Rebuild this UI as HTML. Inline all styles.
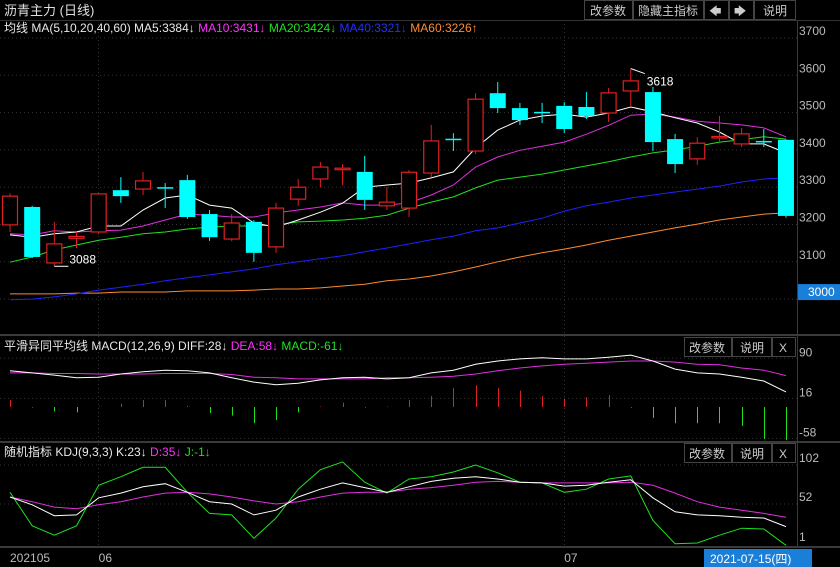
<!DOCTYPE html>
<html><head><meta charset="utf-8">
<style>
html,body{margin:0;padding:0;background:#000;width:840px;height:567px;overflow:hidden;font-family:"Liberation Sans","Noto Sans CJK SC",sans-serif;}
svg{display:block}
text{font-family:"Liberation Sans","Noto Sans CJK SC",sans-serif;}
</style></head>
<body>
<svg id="chart" width="840" height="567" viewBox="0 0 840 567" xmlns="http://www.w3.org/2000/svg">
<rect x="0" y="0" width="840" height="567" fill="#000"/>
<g id="frame">
<line x1="797.5" y1="20" x2="797.5" y2="547" stroke="#3a3a3a"/>
<line x1="0" y1="20.5" x2="840" y2="20.5" stroke="#333"/>
<rect x="0" y="334" width="840" height="2" fill="#3a3a3a"/>
<rect x="0" y="441" width="840" height="2" fill="#3a3a3a"/>
<rect x="0" y="546" width="840" height="2" fill="#3a3a3a"/>
</g>
<text x="4" y="15" fill="#e0e0e0" font-size="13">沥青主力 (日线)</text>
<g font-size="12" fill="#ccc">
<rect x="584.5" y="0.5" width="48" height="19" fill="#000" stroke="#444"/>
<text x="590" y="15" fill="#ccc">改参数</text>
<rect x="633.5" y="0.5" width="70" height="19" fill="#000" stroke="#444"/>
<text x="638" y="15" fill="#ccc">隐藏主指标</text>
<rect x="704.5" y="0.5" width="24" height="19" fill="#000" stroke="#444"/>
<text x="709" y="15" fill="#ccc">🡄</text>
<rect x="729.5" y="0.5" width="24" height="19" fill="#000" stroke="#444"/>
<text x="734" y="15" fill="#ccc">🡆</text>
<rect x="754.5" y="0.5" width="41" height="19" fill="#000" stroke="#444"/>
<text x="763" y="15" fill="#ccc">说明</text>
</g>
<text x="4" y="32" font-size="12"><tspan fill="#e8e8e8">均线 MA(5,10,20,40,60) MA5:3384↓ </tspan><tspan fill="#ff30ff">MA10:3431↓ </tspan><tspan fill="#20e020">MA20:3424↓ </tspan><tspan fill="#2030ff">MA40:3321↓ </tspan><tspan fill="#ff8a30">MA60:3226↑</tspan></text>
<text x="4" y="350" font-size="12"><tspan fill="#e8e8e8">平滑异同平均线 MACD(12,26,9) DIFF:28↓ </tspan><tspan fill="#ff30ff">DEA:58↓ </tspan><tspan fill="#20e020">MACD:-61↓</tspan></text>
<text x="4" y="456" font-size="12"><tspan fill="#e8e8e8">随机指标 KDJ(9,3,3) K:23↓ </tspan><tspan fill="#ff30ff">D:35↓ </tspan><tspan fill="#20e020">J:-1↓</tspan></text>
<g font-size="12" fill="#ccc">
<rect x="684.5" y="337.5" width="47" height="19" fill="#000" stroke="#444"/>
<text x="689" y="352" fill="#ccc">改参数</text>
<rect x="732.5" y="337.5" width="39" height="19" fill="#000" stroke="#444"/>
<text x="740" y="352" fill="#ccc">说明</text>
<rect x="772.5" y="337.5" width="23" height="19" fill="#000" stroke="#444"/>
<text x="779" y="352" fill="#ccc">X</text>
<rect x="684.5" y="443.5" width="47" height="19" fill="#000" stroke="#444"/>
<text x="689" y="458" fill="#ccc">改参数</text>
<rect x="732.5" y="443.5" width="39" height="19" fill="#000" stroke="#444"/>
<text x="740" y="458" fill="#ccc">说明</text>
<rect x="772.5" y="443.5" width="23" height="19" fill="#000" stroke="#444"/>
<text x="779" y="458" fill="#ccc">X</text>
</g>
<g id="grid"></g>
<g id="price"></g>
<g id="macd"></g>
<g id="kdj"></g>
<g id="axes"></g>
</svg>
<script>
const opens  = [3199,3247,3097,3163,3180,3292,3295,3300,3319,3228,3161,3207,3140,3268,3322,3350,3341,3250,3244,3338,3430,3397,3552,3512,3502,3518,3515,3499,3558,3555,3429,3376,3433,3416,3424,3427];
const closes = [3276,3113,3148,3168,3282,3276,3317,3298,3220,3166,3204,3124,3244,3300,3354,3351,3266,3260,3340,3424,3429,3536,3512,3480,3500,3456,3491,3553,3585,3421,3362,3418,3436,3443,3421,3223];
const highs  = [3284,3250,3207,3180,3284,3327,3341,3311,3333,3239,3228,3212,3258,3322,3368,3362,3384,3300,3346,3467,3445,3552,3582,3526,3526,3528,3555,3566,3618,3569,3443,3434,3491,3459,3456,3429];
const lows   = [3180,3110,3088,3137,3174,3258,3279,3244,3215,3156,3155,3100,3124,3250,3300,3306,3239,3239,3220,3327,3397,3389,3499,3467,3472,3445,3483,3475,3515,3397,3338,3360,3421,3408,3408,3218];
const ma5  = [3172,3166,3175,3180,3196,3196,3239,3271,3279,3252,3244,3204,3193,3212,3233,3257,3300,3306,3311,3325,3341,3405,3453,3480,3491,3496,3488,3499,3515,3502,3486,3472,3448,3416,3416,3392];
const ma10 = [3175,3172,3183,3180,3183,3185,3196,3212,3228,3225,3220,3220,3231,3239,3247,3258,3252,3252,3258,3279,3306,3354,3381,3399,3410,3421,3442,3466,3493,3496,3488,3477,3472,3467,3459,3435];
const ma20 = [3099,3113,3132,3145,3158,3166,3175,3180,3188,3193,3196,3196,3199,3207,3209,3212,3217,3225,3244,3260,3274,3298,3319,3327,3335,3346,3357,3368,3381,3392,3400,3410,3421,3427,3435,3429];
const ma40 = [2998,3000,3006,3014,3024,3032,3040,3049,3057,3065,3073,3081,3092,3100,3108,3116,3127,3137,3148,3159,3169,3183,3191,3204,3217,3236,3250,3260,3271,3279,3287,3295,3303,3314,3322,3325];
const ma60 = [3014,3014,3014,3016,3016,3019,3019,3019,3022,3022,3022,3024,3027,3027,3030,3035,3040,3049,3054,3062,3073,3086,3100,3113,3124,3134,3145,3158,3169,3180,3191,3201,3212,3220,3228,3231];
const diff = [67,63,59,54,55,61,65,68,67,63,54,46,41,44,50,54,55,52,54,63,68,79,85,89,91,89,89,92,96,85,70,63,61,55,48,28];
const dea  = [63,63,62,62,61,61,61,62,62,62,60,55,54,52,52,52,52,54,54,55,57,61,67,72,76,79,81,83,85,85,83,79,78,72,68,58];
const hist = [13,-1,-8,-10,1,6,13,13,2,-11,-16,-30,-24,-10,1,8,-1,1,13,20,35,40,35,30,20,15,18,22,0,-20,-30,-30,-30,-35,-59,-61];
const kVals = [61,51,37,38,60,66,74,78,67,55,52,38,44,61,71,79,73,67,74,81,85,87,84,80,79,75,76,80,83,60,42,38,37,35,34,23];
const dVals = [61,55,48,46,51,55,61,66,67,65,61,56,52,55,61,66,67,67,71,73,76,80,81,80,79,79,79,79,80,76,66,55,48,44,40,35];
const jVals = [67,24,12,24,76,87,99,99,67,40,38,8,34,71,96,106,80,66,84,87,93,102,92,80,79,67,71,84,88,31,1,2,12,21,20,-1];
const priceTicks = [3700,3600,3500,3400,3300,3200,3100,3000];
const macdTicks = [90,16,-58];
const kdjTicks = [102,52,1];
const dateLabels = ["202105","06","07"];
const dateIndex = [0,4,25];

const NS="http://www.w3.org/2000/svg";
function mk(tag,attrs,parent){const e=document.createElementNS(NS,tag);for(const k in attrs)e.setAttribute(k,attrs[k]);parent.appendChild(e);return e;}
const xOf=i=>10+i*22.17;
const yP=p=>38+(3700-p)*0.373;
const yM=v=>407-v*0.541;
const yK=v=>504-(v-52)*0.78;
const G=id=>document.getElementById(id);
const grid=G('grid'),price=G('price'),macd=G('macd'),kdj=G('kdj'),axes=G('axes');

priceTicks.forEach(t=>{const l=mk('line',{x1:0,x2:797,y1:yP(t),y2:yP(t),stroke:'#333','stroke-dasharray':'1,3'},grid);


if(t===3000){const r=mk('rect',{x:798,y:yP(t)-15,width:42,height:16,fill:'#1a7fd8'},axes);

}
const tx=mk('text',{x:t===3000?808:799,y:yP(t)-3,fill:t===3000?'#fff':'#bbb','font-size':12},axes);tx.textContent=t;

});
macdTicks.forEach(t=>{const l=mk('line',{x1:0,x2:797,y1:yM(t),y2:yM(t),stroke:'#333','stroke-dasharray':'1,3'},grid);


const tx=mk('text',{x:799,y:yM(t)-2,fill:'#bbb','font-size':12},axes);tx.textContent=t;

});
kdjTicks.forEach(t=>{if(t!==1){const l=mk('line',{x1:0,x2:797,y1:yK(t),y2:yK(t),stroke:'#333','stroke-dasharray':'1,3'},grid);

}
const tx=mk('text',{x:799,y:yK(t)-3,fill:'#bbb','font-size':12},axes);tx.textContent=t;

});
[4,25].forEach(i=>{const x=Math.round(xOf(i)-0.5)+0.5;const l=mk('line',{x1:x,x2:x,y1:20,y2:546,stroke:'#333','stroke-dasharray':'1,3'},grid);

});
dateLabels.forEach((s,k)=>{const x=k===0?10:xOf(dateIndex[k]);const tx=mk('text',{x:x,y:562,fill:'#bbb','font-size':12},axes);tx.textContent=s;

});
{const r=mk('rect',{x:704,y:549,width:108,height:18,fill:'#1a7fd8'},axes);


const tx=mk('text',{x:710,y:563,fill:'#fff','font-size':12},axes);tx.textContent='2021-07-15(四)';

}

function line(arr,fy,color,parent,name){const pts=arr.map((v,i)=>xOf(i).toFixed(1)+','+fy(v).toFixed(1)).join(' ');
const p=mk('polyline',{points:pts,fill:'none',stroke:color,'stroke-width':1},parent);

}
line(ma60,yP,'#ff8a30',price,'ma60-line');
line(ma40,yP,'#2020ff',price,'ma40-line');
line(ma20,yP,'#20e020',price,'ma20-line');
line(ma10,yP,'#e030e0',price,'ma10-line');
line(ma5,yP,'#ffffff',price,'ma5-line');

opens.forEach((o,i)=>{const c=closes[i],x=xOf(i),up=c>=o;const col=up?'#e02020':'#00ffff';
const g=mk('g',{},price);


const top=yP(Math.max(o,c)),bot=yP(Math.min(o,c));
mk('line',{x1:x,x2:x,y1:yP(highs[i]),y2:top,stroke:col,'stroke-width':1},g);
mk('line',{x1:x,x2:x,y1:bot,y2:yP(lows[i]),stroke:col,'stroke-width':1},g);
const h=Math.max(bot-top,1.5);
if(up) mk('rect',{x:x-8+0.5,y:top,width:15,height:h,fill:'#000',stroke:col,'stroke-width':1.2},g);
else mk('rect',{x:x-8,y:top,width:16,height:h,fill:col},g);
});
{const hi=highs.indexOf(Math.max(...highs)),lo=lows.indexOf(Math.min(...lows));
const a=mk('polyline',{points:`${xOf(hi)},${yP(highs[hi])} ${xOf(hi)+14},${yP(highs[hi])+5}`,fill:'none',stroke:'#fff'},price);


const t=mk('text',{x:xOf(hi)+16,y:yP(highs[hi])+17,fill:'#fff','font-size':12},price);t.textContent=Math.max(...highs);


const b=mk('line',{x1:xOf(lo),x2:xOf(lo)+14,y1:yP(lows[lo]),y2:yP(lows[lo]),stroke:'#fff'},price);


const t2=mk('text',{x:xOf(lo)+15,y:yP(lows[lo])-3,fill:'#fff','font-size':12},price);t2.textContent=Math.min(...lows);

}

hist.forEach((v,i)=>{const x=Math.round(xOf(i))+0.5;const l=mk('line',{x1:x,x2:x,y1:yM(0),y2:yM(v)+(v===0?1:0),stroke:v>=0?'#e02020':'#20e020','stroke-width':1},macd);

});
line(dea,yM,'#e030e0',macd,'dea-line');
line(diff,yM,'#ffffff',macd,'diff-line');

line(dVals,yK,'#e030e0',kdj,'d-line');
line(jVals,yK,'#20e020',kdj,'j-line');
line(kVals,yK,'#ffffff',kdj,'k-line');
</script>
</body></html>
